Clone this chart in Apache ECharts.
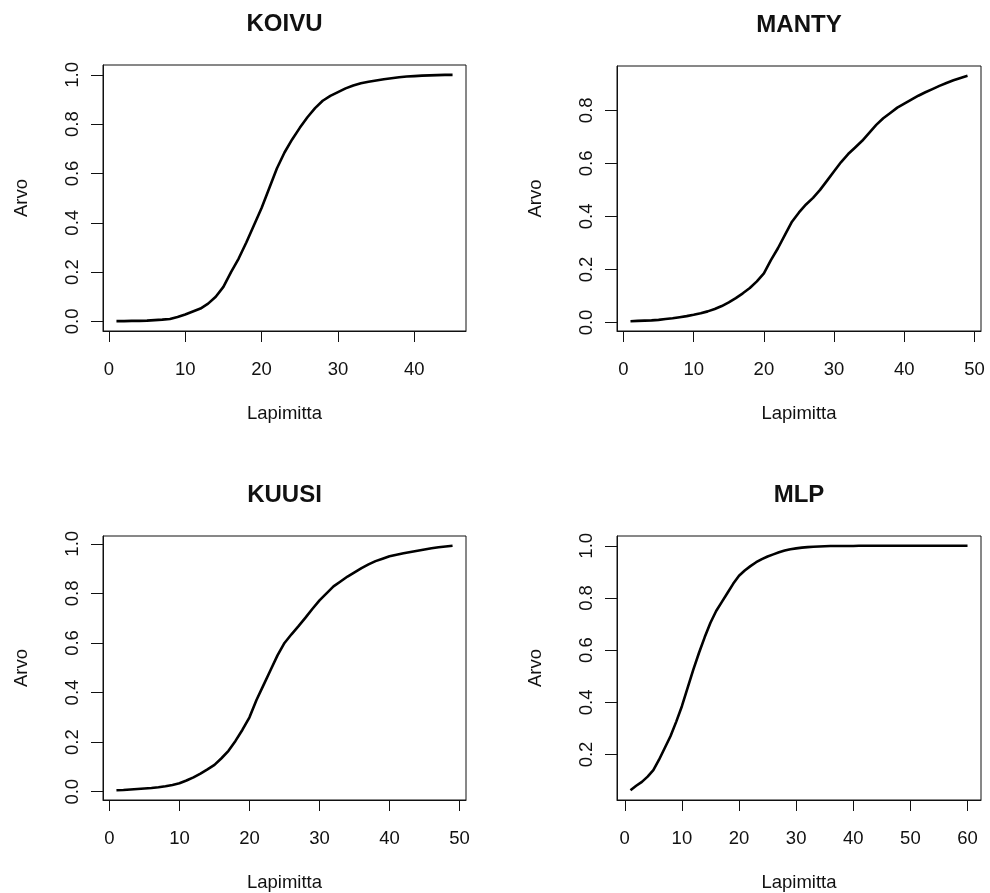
<!DOCTYPE html>
<html>
<head>
<meta charset="utf-8">
<script src="https://cdn.jsdelivr.net/npm/echarts@6/dist/echarts.min.js"></script>
<style>
  html, body { margin: 0; padding: 0; background: #fff; }
  #chart { width: 990px; height: 893px; }
</style>
</head>
<body>
<div id="chart"></div>
<script>
// lapimitta (cm), shared x values; each species uses as many as it has values
const lapimitta = [1, 2, 3, 4, 5, 6, 7, 8, 9, 10, 11, 12, 13, 14, 15, 16, 17, 18, 19, 20,
  21, 22, 23, 24, 25, 26, 27, 28, 29, 30, 31, 32, 33, 34, 35, 36, 37, 38, 39, 40,
  41, 42, 43, 44, 45, 46, 47, 48, 49, 50, 51, 52, 53, 54, 55, 56, 57, 58, 59, 60];

const koivu = [0.001, 0.001, 0.002, 0.002, 0.003, 0.005, 0.007, 0.01, 0.018, 0.028,
  0.04, 0.052, 0.072, 0.1, 0.14, 0.2, 0.255, 0.32, 0.39, 0.46,
  0.54, 0.62, 0.685, 0.738, 0.785, 0.828, 0.865, 0.895, 0.915, 0.93,
  0.945, 0.957, 0.966, 0.972, 0.977, 0.982, 0.986, 0.99, 0.993, 0.995,
  0.997, 0.998, 0.999, 1.0, 1.0];

const manty = [0.005, 0.006, 0.007, 0.008, 0.01, 0.013, 0.016, 0.02, 0.024, 0.029,
  0.035, 0.042, 0.051, 0.062, 0.076, 0.092, 0.11, 0.13, 0.155, 0.185,
  0.235, 0.28, 0.33, 0.38, 0.415, 0.445, 0.47, 0.5, 0.535, 0.57,
  0.605, 0.635, 0.66, 0.685, 0.715, 0.745, 0.77, 0.79, 0.81, 0.825,
  0.84, 0.855, 0.868, 0.88, 0.892, 0.903, 0.913, 0.922, 0.93];

const kuusi = [0.006, 0.007, 0.009, 0.011, 0.013, 0.015, 0.018, 0.022, 0.027, 0.034,
  0.045, 0.058, 0.073, 0.09, 0.108, 0.135, 0.165, 0.205, 0.25, 0.3,
  0.37, 0.43, 0.49, 0.55, 0.6, 0.635, 0.668, 0.702, 0.738, 0.772,
  0.8, 0.828, 0.848, 0.868, 0.885, 0.902, 0.917, 0.93, 0.94, 0.95,
  0.956, 0.962, 0.967, 0.972, 0.977, 0.982, 0.986, 0.989, 0.992];

const mlp = [0.063, 0.08, 0.095, 0.115, 0.14, 0.18, 0.225, 0.27, 0.325, 0.385,
  0.455, 0.525, 0.59, 0.65, 0.705, 0.75, 0.785, 0.82, 0.855, 0.885,
  0.905, 0.922, 0.937, 0.949, 0.959, 0.967, 0.975, 0.982, 0.987, 0.99,
  0.993, 0.995, 0.996, 0.997, 0.998, 0.999, 0.999, 0.999, 0.999, 0.999,
  1.0, 1.0, 1.0, 1.0, 1.0, 1.0, 1.0, 1.0, 1.0, 1.0,
  1.0, 1.0, 1.0, 1.0, 1.0, 1.0, 1.0, 1.0, 1.0, 1.0];

const titles = ['KOIVU', 'MANTY', 'KUUSI', 'MLP'];
const values = [koivu, manty, kuusi, mlp];
const xTicks = [
  [0, 10, 20, 30, 40],
  [0, 10, 20, 30, 40, 50],
  [0, 10, 20, 30, 40, 50],
  [0, 10, 20, 30, 40, 50, 60]
];
const yTicks = [
  [0, 0.2, 0.4, 0.6, 0.8, 1.0],
  [0, 0.2, 0.4, 0.6, 0.8],
  [0, 0.2, 0.4, 0.6, 0.8, 1.0],
  [0.2, 0.4, 0.6, 0.8, 1.0]
];

// plot boxes
const boxes = [
  { left: 103, top: 65, width: 363, height: 266 },
  { left: 617, top: 66, width: 364, height: 265 },
  { left: 103, top: 536, width: 363, height: 265 },
  { left: 617, top: 536, width: 364, height: 265 }
];

const FONT = '"Liberation Sans", Arial, sans-serif';
const INK = '#111';

// R style range: data range extended by 4% on each side
function rRange(arr) {
  const lo = Math.min(...arr), hi = Math.max(...arr);
  const pad = (hi - lo) * 0.04;
  return [lo - pad, hi + pad];
}

const grid = [], xAxis = [], yAxis = [], series = [], title = [];

values.forEach((vals, i) => {
  const xs = lapimitta.slice(0, vals.length);
  const [x0, x1] = rRange(xs);
  const [y0, y1] = rRange(vals);
  const b = boxes[i];

  grid.push({
    left: b.left, top: b.top, width: b.width, height: b.height,
    show: true, borderColor: INK, borderWidth: 1, backgroundColor: 'transparent'
  });

  title.push({
    text: titles[i],
    left: b.left + b.width / 2,
    top: b.top - 53,
    textAlign: 'center',
    padding: 0,
    textStyle: { fontFamily: FONT, fontSize: 24, fontWeight: 'bold', color: INK }
  });

  xAxis.push({
    type: 'value', gridIndex: i, min: x0, max: x1,
    name: 'Lapimitta', nameLocation: 'middle', nameGap: 73,
    nameTextStyle: { fontFamily: FONT, fontSize: 18.5, color: INK },
    axisLine: { show: true, onZero: false, lineStyle: { color: INK, width: 1 } },
    splitLine: { show: false },
    axisTick: { show: true, length: 11, customValues: xTicks[i], lineStyle: { color: INK, width: 1 } },
    axisLabel: {
      customValues: xTicks[i], margin: 29,
      fontFamily: FONT, fontSize: 18.5, color: INK,
      formatter: v => String(Math.round(v))
    }
  });

  yAxis.push({
    type: 'value', gridIndex: i, min: y0, max: y1,
    name: 'Arvo', nameLocation: 'middle', nameGap: 72,
    nameTextStyle: { fontFamily: FONT, fontSize: 18.5, color: INK },
    axisLine: { show: true, onZero: false, lineStyle: { color: INK, width: 1 } },
    splitLine: { show: false },
    axisTick: { show: true, length: 12, customValues: yTicks[i], lineStyle: { color: INK, width: 1 } },
    axisLabel: {
      customValues: yTicks[i], margin: 21, rotate: 90,
      fontFamily: FONT, fontSize: 18.5, color: INK,
      formatter: v => v.toFixed(1)
    }
  });

  series.push({
    type: 'line', xAxisIndex: i, yAxisIndex: i,
    data: xs.map((x, k) => [x, vals[k]]),
    showSymbol: false, silent: true,
    lineStyle: { color: '#000', width: 2.6 }
  });
});

const chart = echarts.init(document.getElementById('chart'), null, { renderer: 'canvas' });
chart.setOption({
  animation: false,
  backgroundColor: '#fff',
  title, grid, xAxis, yAxis, series
});
</script>
</body>
</html>
